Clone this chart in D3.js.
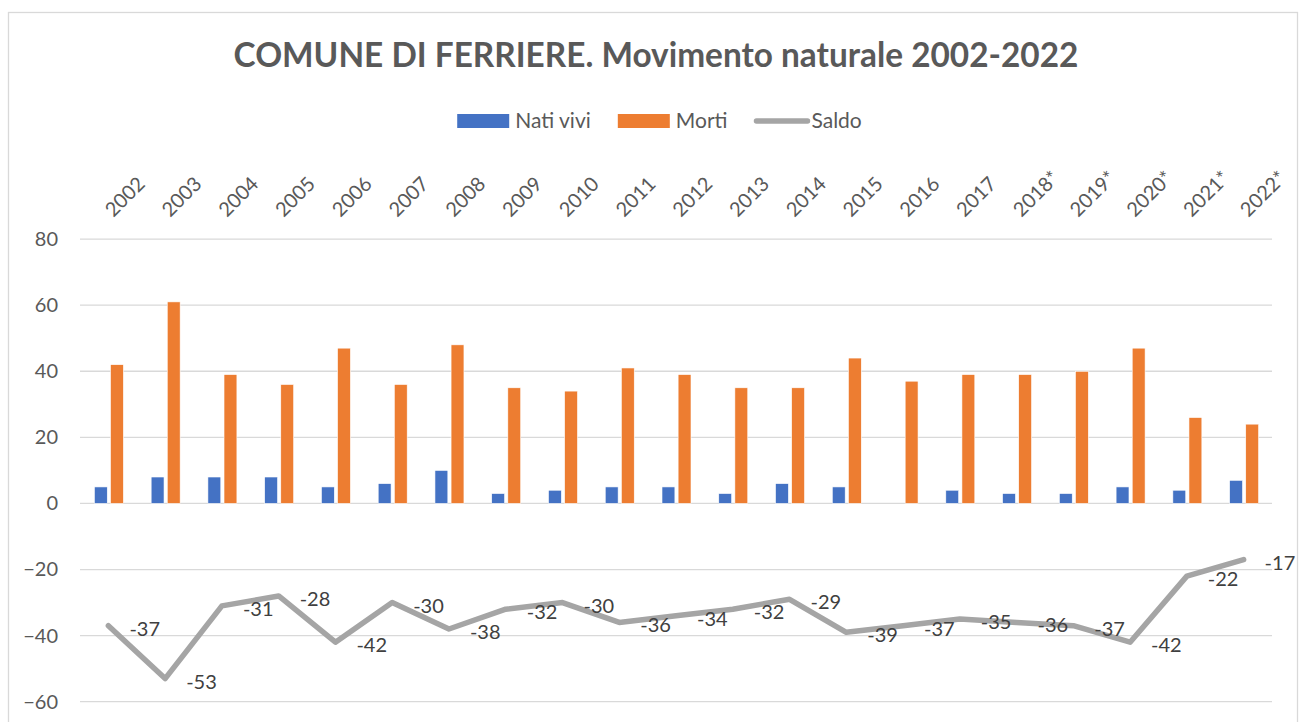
<!DOCTYPE html>
<html>
<head>
<meta charset="utf-8">
<script src="https://cdn.jsdelivr.net/npm/d3@7"></script>
<style>
  body { margin: 0; background: #fff; }
  svg text { font-family: Lato, "Open Sans", sans-serif; }
</style>
</head>
<body>
<div id="chart"></div>
<script>
const years = ["2002", "2003", "2004", "2005", "2006", "2007", "2008", "2009", "2010", "2011",
    "2012", "2013", "2014", "2015", "2016", "2017", "2018*", "2019*", "2020*", "2021*", "2022*"];
const natiVivi = [5, 8, 8, 8, 5, 6, 10, 3, 4, 5, 5, 3, 6, 5, 0, 4, 3, 3, 5, 4, 7];
const morti = [42, 61, 39, 36, 47, 36, 48, 35, 34, 41, 39, 35, 35, 44, 37, 39, 39, 40, 47, 26, 24];
const saldo = [-37, -53, -31, -28, -42, -30, -38, -32, -30, -36, -34, -32, -29, -39, -37, -35, -36, -37, -42, -22, -17];
const yTicks = [-60, -40, -20, 0, 20, 40, 60, 80];
const barSeries = ["Nati vivi", "Morti"];
const lineSeries = "Saldo";
const titleText = "COMUNE DI FERRIERE. Movimento naturale 2002-2022";

const width = 1300, height = 722;
const plotLeft = 80, plotRight = 1272, plotTop = 239.1, plotBottom = 701.7;
const colors = { "Nati vivi": "#4472C4", "Morti": "#ED7D31", "Saldo": "#A5A5A5" };

const svg = d3.select("#chart")
    .append("svg")
    .attr("width", width)
    .attr("height", height)
    .attr("viewBox", `0 0 ${width} ${height}`);

// chart border
svg.append("rect")
    .attr("x", 8.5).attr("y", 12.5)
    .attr("width", 1289).attr("height", 730)
    .attr("fill", "none")
    .attr("stroke", "#D9D9D9")
    .attr("stroke-width", 1.3);

const x = d3.scaleBand()
    .domain(years)
    .range([plotLeft, plotRight]);

const xSub = d3.scaleBand()
    .domain(barSeries)
    .range([-14, 15])
    .paddingInner(0.2);

const y = d3.scaleLinear()
    .domain([-60, 80])
    .range([plotBottom, plotTop]);

// gridlines
svg.append("g")
    .selectAll("line")
    .data(yTicks)
    .join("line")
    .attr("x1", plotLeft)
    .attr("x2", plotRight)
    .attr("y1", d => y(d))
    .attr("y2", d => y(d))
    .attr("stroke", "#D9D9D9")
    .attr("stroke-width", 1.3);

// y axis
const leftAxis = d3.axisLeft(y).tickValues(yTicks).tickSize(0).tickPadding(22);
const gy = svg.append("g")
    .attr("transform", `translate(${plotLeft},0)`)
    .call(leftAxis);
gy.select(".domain").remove();
gy.selectAll("text")
    .attr("fill", "#595959")
    .style("font-size", "20px");

// x axis at the top, rotated labels
const topAxis = d3.axisTop(x).tickSize(0);
const gx = svg.append("g")
    .attr("transform", "translate(0,218)")
    .call(topAxis);
gx.select(".domain").remove();
gx.selectAll("text")
    .attr("x", 0).attr("y", 0).attr("dy", 0)
    .attr("text-anchor", "start")
    .attr("transform", "translate(5,0) rotate(-45)")
    .attr("fill", "#595959")
    .style("font-size", "20px");

// bars
const barData = years.flatMap((yr, i) => [
    { year: yr, key: "Nati vivi", value: natiVivi[i] },
    { year: yr, key: "Morti", value: morti[i] }
]);

svg.append("g")
    .selectAll("rect")
    .data(barData.filter(d => d.value > 0))
    .join("rect")
    .attr("x", d => x(d.year) + x.bandwidth() / 2 + xSub(d.key))
    .attr("width", xSub.bandwidth())
    .attr("y", d => y(d.value))
    .attr("height", d => y(0) - y(d.value))
    .attr("fill", d => colors[d.key])
    .attr("stroke", "#fff")
    .attr("stroke-width", 0.6);

// saldo line
const cx = d => x(d.year) + x.bandwidth() / 2;
const lineData = years.map((yr, i) => ({ year: yr, value: saldo[i] }));

svg.append("path")
    .datum(lineData)
    .attr("fill", "none")
    .attr("stroke", colors.Saldo)
    .attr("stroke-width", 5.5)
    .attr("stroke-linejoin", "round")
    .attr("stroke-linecap", "round")
    .attr("d", d3.line().x(cx).y(d => y(d.value)));

svg.append("g")
    .selectAll("text")
    .data(lineData)
    .join("text")
    .attr("x", d => cx(d) + 21)
    .attr("y", d => y(d.value) + 3)
    .attr("dy", "0.35em")
    .attr("fill", "#404040")
    .style("font-size", "20px")
    .text(d => d.value);

// title
const title = svg.append("text")
    .attr("x", 656)
    .attr("y", 67)
    .attr("text-anchor", "middle")
    .attr("fill", "#595959")
    .style("font-size", "30px")
    .style("font-weight", "bold")
    .text(titleText);
const tw = title.node().getComputedTextLength();
title.style("font-size", `${30 * 845 / tw}px`);

// legend
const legend = svg.append("g").attr("class", "legend");
const items = [...barSeries, lineSeries];
let lx = 0;
items.forEach((name, i) => {
    const g = legend.append("g").attr("transform", `translate(${lx},0)`);
    if (name === lineSeries) {
        g.append("line")
            .attr("x1", 2).attr("x2", 53)
            .attr("y1", 0).attr("y2", 0)
            .attr("stroke", colors[name])
            .attr("stroke-width", 5.5)
            .attr("stroke-linecap", "round");
    } else {
        g.append("rect")
            .attr("x", 0).attr("y", -7)
            .attr("width", 52).attr("height", 14)
            .attr("fill", colors[name]);
    }
    const t = g.append("text")
        .attr("x", name === lineSeries ? 57 : 58)
        .attr("y", 7)
        .attr("fill", "#595959")
        .style("font-size", "21px")
        .text(name);
    lx += 58 + t.node().getComputedTextLength() + 27;
});
const lw = lx - 27;
legend.attr("transform", `translate(${660 - lw / 2},121)`);
</script>
</body>
</html>
